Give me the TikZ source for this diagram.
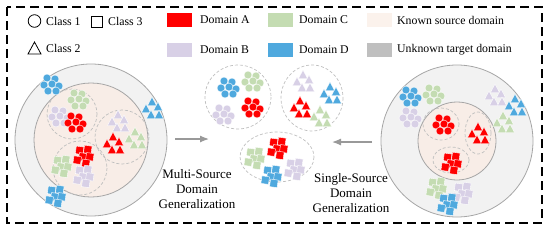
\documentclass[tikz,border=0pt]{standalone}
\usepackage{fontspec}
\setmainfont{Liberation Serif}
\usetikzlibrary{arrows.meta}

\definecolor{domA}{HTML}{FF0000}
\definecolor{domB}{HTML}{D8D0E6}
\definecolor{domC}{HTML}{C4DCB2}
\definecolor{domD}{HTML}{4FA9DE}
\definecolor{known}{HTML}{FBF2EC}
\definecolor{unknown}{HTML}{BFBFBF}
\definecolor{ringfill}{HTML}{F2F2F2}
\definecolor{ringline}{HTML}{A6A6A6}
\definecolor{innerfill}{HTML}{F8EDE7}

% clusters of class markers: colour, centre
\newcommand{\circset}[2]{%
  \begin{scope}[shift={(#2)}]
    \foreach \dx/\dy in {-4/-7,4/-6,-7/0,1/-1,8/1,-3/6,5/6}
      \filldraw[dot,fill=#1] (\dx,\dy) circle[radius=4];
  \end{scope}}
\newcommand{\triset}[2]{%
  \begin{scope}[shift={(#2)}]
    \foreach \dx/\dy in {0/-6,-6/1,6/-1,-1/7,7/7}
      \filldraw[dot,fill=#1] (\dx,\dy-5) -- (\dx-4.5,\dy+3.5) -- (\dx+4.5,\dy+3.5) -- cycle;
  \end{scope}}
\newcommand{\sqset}[2]{%
  \begin{scope}[shift={(#2)},rotate=-8]
    \foreach \dx/\dy in {-5/-4,3/-6,-1/2,6/1,-6/6,3/8}
      \filldraw[dot,fill=#1] (\dx-3.8,\dy-3.8) rectangle (\dx+3.8,\dy+3.8);
  \end{scope}}

\begin{document}
\begin{tikzpicture}[
  x=1pt,y=-1pt,
  every node/.style={font=\fontsize{11.8}{14}\selectfont},
  dot/.style={draw=white,line width=0.4pt},
  frame/.style={dashed,line width=1.3pt,dash pattern=on 9pt off 5pt},
  ring/.style={draw=ringline,line width=0.8pt},
  group/.style={draw=unknown,dashed,line width=0.7pt,dash pattern=on 3pt off 2pt},
  lbl/.style={anchor=west,inner sep=0pt},
  caption/.style={align=center,inner sep=0pt,font=\fontsize{13}{15}\selectfont},
  arr/.style={draw=gray!80,line width=1.2pt,-{Latex[length=9pt,width=7pt]}}
]
  \useasboundingbox (0,0) rectangle (550,234);
  \draw[frame] (7,7) rectangle (542,223);

  % legend
  \draw[line width=0.8pt] (34.5,21) circle[radius=6.3];
  \node[lbl] (c1) at (46,21) {Class 1};
  \draw[line width=0.8pt] (91,16) rectangle (102,27);
  \node[lbl] (c3) at (108,21) {Class 3};
  \draw[line width=0.8pt] (34.5,42) -- (28,54) -- (41,54) -- cycle;
  \node[lbl] (c2) at (46,48) {Class 2};

  \fill[domA] (167,13) rectangle (192,27);
  \node[lbl] (la) at (200,20) {Domain A};
  \fill[domC] (268,13) rectangle (293,27);
  \node[lbl] (lc) at (299,20) {Domain C};
  \fill[known] (367,13) rectangle (392,27);
  \node[lbl] (lk) at (397,20) {Known source domain};
  \fill[domB] (167,43) rectangle (192,57);
  \node[lbl] (lb) at (200,50) {Domain B};
  \fill[domD] (268,43) rectangle (293,57);
  \node[lbl] (ld) at (299,50) {Domain D};
  \fill[unknown] (367,43) rectangle (392,57);
  \node[lbl] (lu) at (397,50) {Unknown target domain};

  % multi-source (left)
  \filldraw[ring,fill=ringfill] (91,140) circle[radius=76];
  \filldraw[ring,fill=innerfill] (91,140) circle[radius=57];
  \draw[group] (72,114) circle[radius=25];
  \draw[group] (122,137) circle[radius=27];
  \draw[group] (80,168) circle[radius=27];
  \circset{domC}{78,100}
  \circset{domB}{59,117}
  \circset{domA}{75,123}
  \triset{domB}{118,121}
  \triset{domA}{113,143}
  \triset{domC}{135,138}
  \sqset{domA}{84,155}
  \sqset{domC}{62,165}
  \sqset{domB}{84,175}
  \circset{domD}{51,85}
  \triset{domD}{152,108}
  \sqset{domD}{56,195}

  % unseen target groups (middle)
  \draw[group] (238,97) ellipse[x radius=33,y radius=32];
  \draw[group] (312,98) ellipse[x radius=31,y radius=33];
  \draw[group] (277,157) ellipse[x radius=37,y radius=25];
  \circset{domD}{228,88}
  \circset{domC}{252,82}
  \circset{domB}{223,115}
  \circset{domA}{252,108}
  \triset{domB}{303,81}
  \triset{domD}{330,93}
  \triset{domA}{300,107}
  \triset{domC}{320,116}
  \sqset{domA}{278,147}
  \sqset{domC}{255,157}
  \sqset{domD}{272,175}
  \sqset{domB}{295,168}

  % single-source (right)
  \filldraw[ring,fill=ringfill] (457,141) circle[radius=76];
  \filldraw[ring,fill=innerfill] (457,141) circle[radius=39];
  \draw[group] (441,124) ellipse[x radius=18,y radius=16];
  \draw[group] (478,133) ellipse[x radius=13,y radius=21];
  \draw[group] (451,160) ellipse[x radius=18,y radius=13];
  \circset{domA}{443,125}
  \triset{domA}{478,133}
  \sqset{domA}{452,162}
  \circset{domD}{410,97}
  \circset{domC}{433,95}
  \circset{domB}{410,118}
  \triset{domB}{495,95}
  \triset{domD}{515,105}
  \triset{domC}{503,122}
  \sqset{domC}{437,187}
  \sqset{domB}{463,192}
  \sqset{domD}{448,203}

  % arrows and captions
  \coordinate (msfrom) at (175,139);
  \coordinate (msto) at (209,139);
  \coordinate (ssfrom) at (372,142);
  \coordinate (ssto) at (332,142);
  \draw[arr] (msfrom) -- (msto);
  \draw[arr] (ssfrom) -- (ssto);
  \node[caption] (mslbl) at (197,189) {Multi-Source\\Domain\\Generalization};
  \node[caption] (sslbl) at (351,193) {Single-Source\\Domain\\Generalization};
\end{tikzpicture}
\end{document}
